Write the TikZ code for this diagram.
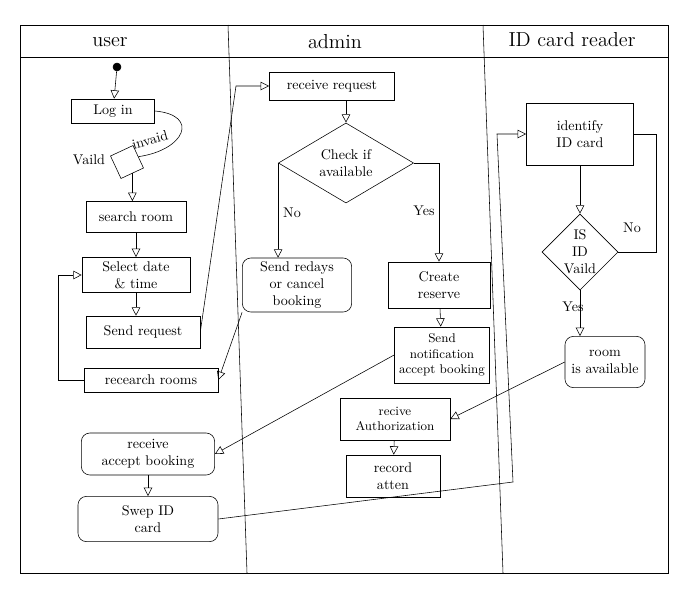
\documentclass[tikz,border=0pt]{standalone}
\usepackage{amsmath,amssymb}
\usetikzlibrary{arrows.meta,shapes.geometric}
\tikzset{
  box/.style={draw,rectangle,align=center,font=\normalsize,inner sep=2pt},
  rbox/.style={box,rounded corners=6pt},
  dec/.style={draw,diamond,align=center,font=\normalsize,inner sep=0pt},
  arr/.style={-{Triangle[open,length=6pt,width=6pt]}},
  lbl/.style={font=\normalsize},
}
\begin{document}
\begin{tikzpicture}[x=0.025cm,y=-0.025cm]
              %\draw[help lines](0,0) grid(700,593);
              \useasboundingbox (0,0) rectangle (700,593);
              % lanes
              \path[draw] (20,25)--(668,25)--(668,573)--(20,573)--cycle;
              \path[draw] (20,57)--(668,57);
              \path[draw] (228,25)--(247,573);
              \path[draw] (483,25)--(503,573);
              \node[font=\Large] (huser) at (110,42) {user};
              \node[font=\Large] (hadmin) at (335,42) {admin};
              \node[font=\Large] (hreader) at (572,40) {ID card reader};
              % user
              \node[draw,circle,fill=black,inner sep=0pt,minimum size=0.2cm] (start) at (117,67) {};
              \node[box,minimum width=2.08cm,minimum height=0.6cm] (login) at (113,111) {Log in};
              \node[draw,rectangle,rotate=25,minimum size=0.62cm] (valid) at (127,162) {};
              \node[box,minimum width=2.5cm,minimum height=0.78cm] (search) at (136,217) {search room};
              \node[box,minimum width=2.7cm,minimum height=0.88cm] (select) at (136,275) {Select date\\\& time};
              \node[box,minimum width=2.85cm,minimum height=0.8cm] (sendreq) at (143,332) {Send request};
              \node[box,minimum width=3.35cm,minimum height=0.6cm] (research) at (151,380) {recearch rooms};
              \node[rbox,minimum width=3.33cm,minimum height=1.05cm] (recacc) at (148,454) {receive\\accept booking};
              \node[rbox,minimum width=3.5cm,minimum height=1.13cm] (swep) at (148,519) {Swep ID\\card};
              % admin
              \node[box,minimum width=3.13cm,minimum height=0.7cm] (receive) at (332,86) {receive request};
              \node[dec,minimum width=3.38cm,minimum height=2cm] (check) at (346,163) {Check if\\available};
              \node[rbox,minimum width=2.73cm,minimum height=1.35cm] (redays) at (297,285) {Send redays\\or cancel\\booking};
              \node[box,minimum width=2.55cm,minimum height=1.15cm] (create) at (439,285) {Create\\reserve};
              \node[box,font=\small,minimum width=2.38cm,minimum height=1.4cm] (notify) at (442,355) {Send\\notification\\accept booking};
              \node[box,font=\small,minimum width=2.75cm,minimum height=1.05cm] (auth) at (395,419) {recive\\Authorization};
              \node[box,minimum width=2.35cm,minimum height=1.05cm] (record) at (393,476) {record\\atten};
              % ID card reader
              \node[box,minimum width=2.68cm,minimum height=1.55cm] (identify) at (580,134) {identify\\ID card};
              \node[dec,minimum width=1.9cm,minimum height=1.9cm] (idvalid) at (580,252) {IS\\ID\\Vaild};
              \node[rbox,minimum width=2cm,minimum height=1.28cm] (roomavail) at (605,362) {room\\is available};
              % flow user
              \path[draw,arr] (start)--(login);
              \path[draw] (login.east) .. controls (200,115) and (185,150) .. (valid.east);
              \node[lbl,rotate=15] (linvaid) at (150,140) {invaid};
              \node[lbl] (lvaild) at (89,160) {Vaild};
              \path[draw,arr] (valid.south)--(valid.south |- search.north);
              \path[draw,arr] (search)--(select);
              \path[draw,arr] (select.south)--(select.south |- sendreq.north);
              \path[draw,arr] (sendreq.east)--(236,86)--(receive.west);
              \path[draw,arr] (research.west)--(58,380)|-(select.west);
              \path[draw,arr] (recacc)--(swep);
              \path[draw,arr] (swep.east)--(513,482)--(497,134)--(identify.west);
              % flow admin
              \path[draw,arr] (receive.south -| check.north)--(check.north);
              \path[draw,arr] (check.west)--(check.west |- redays.north);
              \node[lbl] (lno) at (292,213) {No};
              \path[draw,arr] (check.east)-|(create.north);
              \node[lbl] (lyes) at (424,211) {Yes};
              \path[draw,arr] (redays.south west)--(research.east);
              \path[draw,arr] (create)--(notify);
              \path[draw,arr] (notify.west)--(recacc.east);
              \path[draw,arr] (auth)--(record);
              % flow reader
              \path[draw,arr] (identify)--(idvalid);
              \path[draw] (idvalid.east)--(656,252)|-(identify.east);
              \node[lbl] (lno2) at (632,228) {No};
              \path[draw,arr] (idvalid.south)--(idvalid.south |- roomavail.north);
              \node[lbl] (lyes2) at (573,307) {Yes};
              \path[draw,arr] (roomavail.west)--(auth.east);
            \end{tikzpicture}
\end{document}
